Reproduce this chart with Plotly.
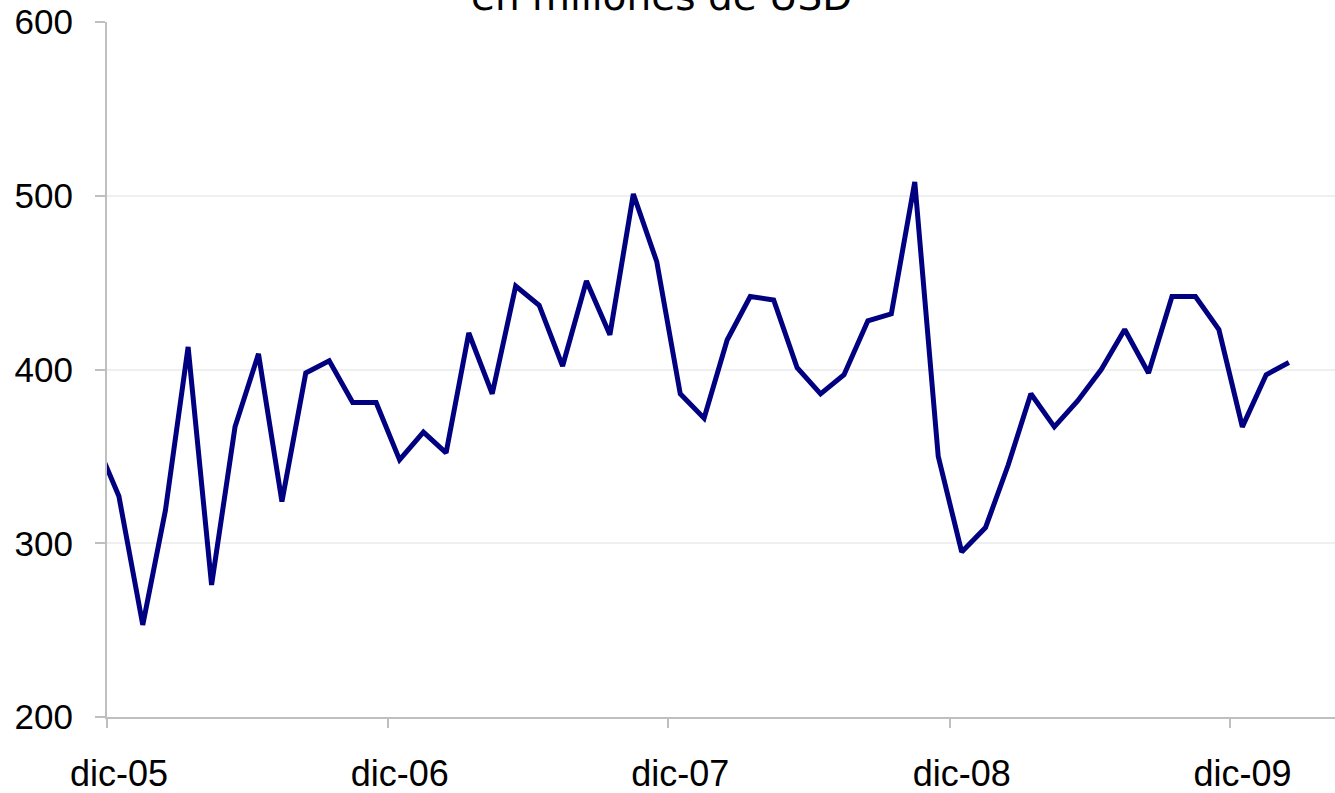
import pandas as pd
import plotly.graph_objects as go

# Monthly values, en millones de USD (nov-05 .. feb-10)
start_month = "2005-11-01"
values = [
    359,                                                        # nov-05
    327, 253, 319, 413, 276, 367, 409, 324, 398, 405, 381, 381, # dic-05 .. nov-06
    348, 364, 352, 421, 386, 448, 437, 402, 451, 420, 501, 462, # dic-06 .. nov-07
    386, 372, 417, 442, 440, 401, 386, 397, 428, 432, 508, 350, # dic-07 .. nov-08
    295, 309, 345, 386, 367, 382, 400, 423, 398, 442, 442, 423, # dic-08 .. nov-09
    367, 397, 404,                                              # dic-09 .. feb-10
]
months = pd.date_range(start_month, periods=len(values), freq="MS")

tick_dates = ["2005-12-01", "2006-12-01", "2007-12-01", "2008-12-01", "2009-12-01"]
tick_labels = ["dic-05", "dic-06", "dic-07", "dic-08", "dic-09"]
y_ticks = [200, 300, 400, 500, 600]

title_text = "en millones de USD"

fig = go.Figure()
fig.add_trace(go.Scatter(
    x=months,
    y=values,
    xperiod="M1",
    xperiodalignment="middle",
    mode="lines",
    line=dict(color="#000080", width=5),
    hoverinfo="x+y",
    showlegend=False,
))

axis_grey = "#bfbfbf"

fig.update_layout(
    width=1335,
    height=793,
    margin=dict(l=107, r=0, t=22, b=76, autoexpand=False),
    paper_bgcolor="white",
    plot_bgcolor="white",
    font=dict(family="Liberation Sans, Arial, sans-serif", color="black"),
    xaxis=dict(
        type="date",
        range=["2005-12-01", "2010-04-16"],
        tickvals=tick_dates,
        ticktext=tick_labels,
        ticks="outside",
        ticklen=9,
        tickwidth=2,
        tickcolor=axis_grey,
        showline=True,
        linecolor=axis_grey,
        linewidth=2,
        showgrid=False,
        zeroline=False,
        automargin=False,
        tickfont=dict(size=36, family="Liberation Sans, Arial, sans-serif"),
        ticklabelshift=12,
        ticklabelstandoff=15,
    ),
    yaxis=dict(
        range=[200, 600],
        tickvals=y_ticks,
        ticks="outside",
        ticklen=10,
        tickwidth=2,
        tickcolor=axis_grey,
        showline=True,
        linecolor=axis_grey,
        linewidth=2,
        showgrid=True,
        gridcolor="#efefef",
        gridwidth=2,
        zeroline=False,
        automargin=False,
        tickfont=dict(size=35, family="Liberation Sans, Arial, sans-serif"),
        ticklabelstandoff=15,
    ),
    annotations=[dict(
        text=title_text,
        xref="paper", yref="paper",
        x=(661 - 107) / 1228, y=1.037,
        xanchor="center", yanchor="middle",
        showarrow=False,
        font=dict(size=39, family="DejaVu Sans, Verdana, sans-serif", color="black"),
    )],
)

fig.write_html("out.html")
